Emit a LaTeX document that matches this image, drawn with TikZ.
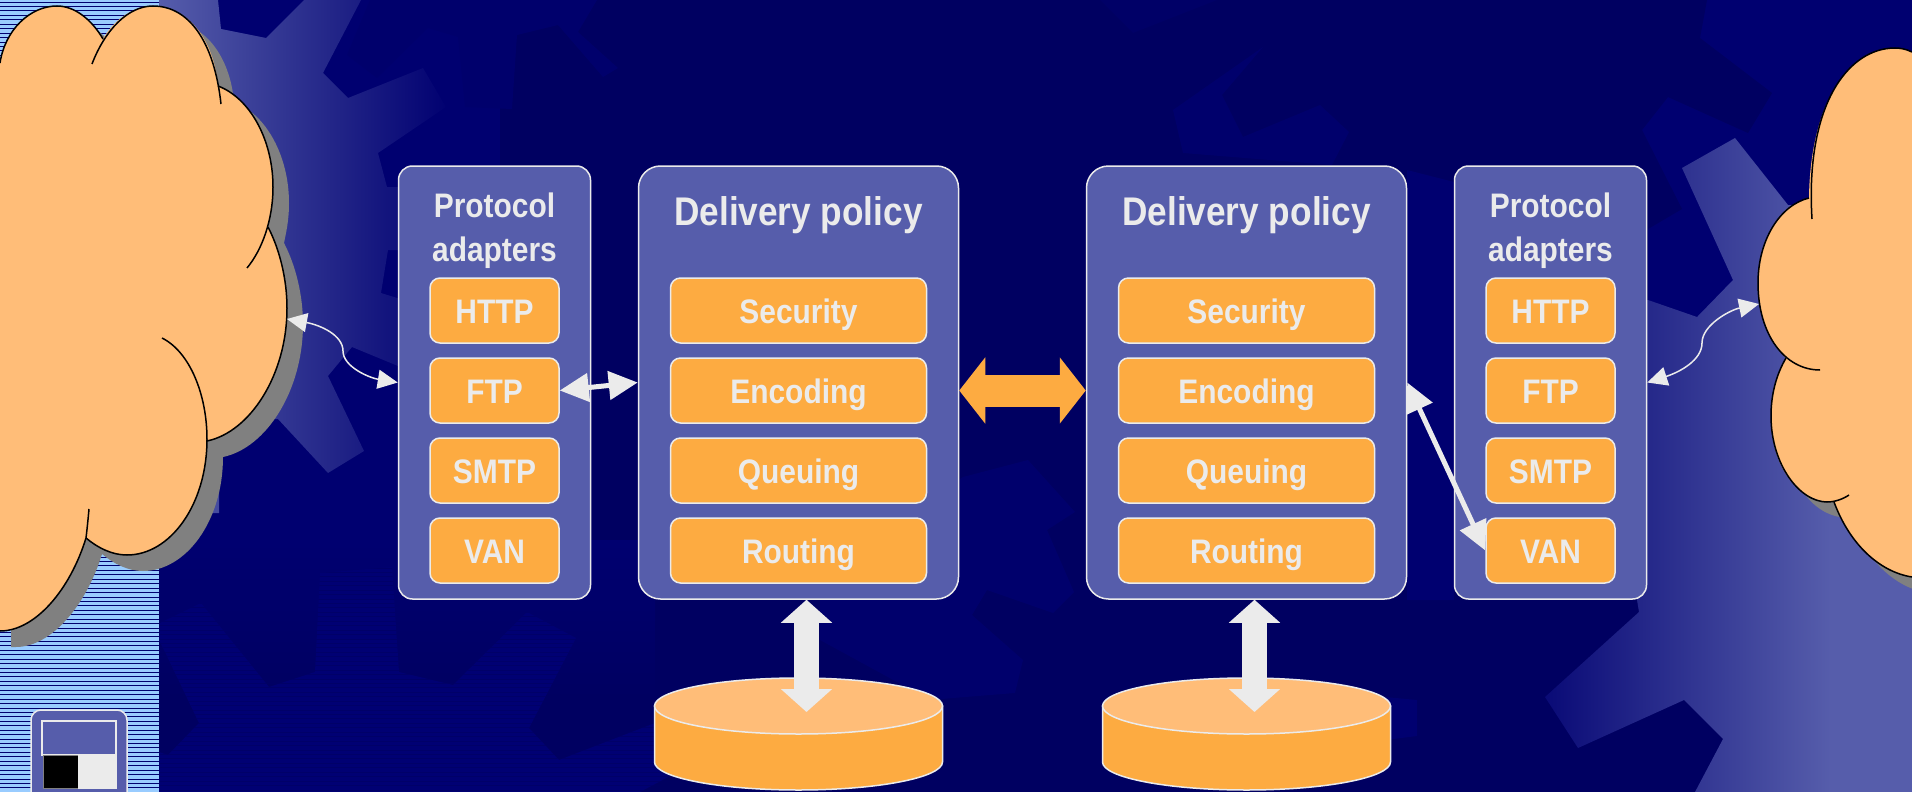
\documentclass[tikz,border=0pt]{standalone}
\usepackage{fontspec}
\setmainfont{Liberation Sans}[FakeStretch=0.88]
\usetikzlibrary{arrows.meta}
\definecolor{bgbase}{rgb}{0, 0, 0.44}
\definecolor{bgdark}{rgb}{0, 0, 0.38}
\definecolor{bgtooth}{rgb}{0, 0, 0.425}
\definecolor{bglight}{rgb}{0, 0, 0.45}
\definecolor{panelblue}{rgb}{0.337, 0.365, 0.671}
\definecolor{slotorange}{rgb}{0.992, 0.671, 0.255}
\definecolor{cloudorange}{rgb}{1.0, 0.741, 0.471}
\definecolor{striplight}{rgb}{0.6, 0.8, 1.0}
\colorlet{linegrey}{black!8!white}
\colorlet{shadowgrey}{black!50!white}
\pgfdeclareradialshading{bgglow}{\pgfpoint{0bp}{0bp}}{color(0bp)=(bgdark); color(22bp)=(bgdark); color(32bp)=(bgbase); color(50bp)=(bgbase)}
\tikzset{panel/.style={draw=linegrey, line width=1.5pt, fill=panelblue, inner sep=0pt, minimum height=433pt}}
\tikzset{panelp/.style={panel, rounded corners=14pt, minimum width=192pt}}
\tikzset{paneld/.style={panel, rounded corners=22pt, minimum width=320pt}}
\tikzset{slot/.style={draw=linegrey, line width=1.5pt, fill=slotorange, rounded corners=10pt, inner sep=0pt, minimum height=65pt, text=linegrey, font=\fontsize{34}{40}\selectfont\bfseries, text height=26pt, text depth=0pt}}
\tikzset{slotp/.style={slot, minimum width=129pt}}
\tikzset{slotd/.style={slot, minimum width=256pt}}
\tikzset{ptitle/.style={text=linegrey, align=center, inner sep=0pt, anchor=base, font=\fontsize{34}{44}\selectfont\bfseries}}
\tikzset{dtitle/.style={text=linegrey, inner sep=0pt, font=\fontsize{40}{48}\selectfont\bfseries, text height=28.6pt, text depth=0pt}}
\tikzset{thinarrow/.style={draw=linegrey, line width=1.5pt, {Triangle[length=20pt, width=19pt, fill=linegrey]}-{Triangle[length=20pt, width=19pt, fill=linegrey]}}}
\tikzset{medarrow/.style={draw=linegrey, line width=5pt, {Triangle[length=29pt, width=28pt, fill=linegrey]}-{Triangle[length=29pt, width=28pt, fill=linegrey]}}}
\tikzset{fatarrow/.style={draw=linegrey, line width=25pt, {Triangle[length=23pt, width=50pt, fill=linegrey]}-{Triangle[length=23pt, width=50pt, fill=linegrey]}}}
\tikzset{linkarrow/.style={draw=slotorange, line width=32pt, {Triangle[length=26pt, width=65pt, fill=slotorange]}-{Triangle[length=26pt, width=65pt, fill=slotorange]}}}
\tikzset{cloudline/.style={draw=black, line width=1.5pt}}
\tikzset{storeedge/.style={draw=linegrey, line width=1.5pt}}
\newcommand{\cloudleft}{(-5, 63) -- (0, 63) .. controls (5, 30) and (30, 6) .. (57, 6) .. controls (75, 6) and (92, 20) .. (103, 39) .. controls (115, 18) and (135, 6) .. (153, 6) .. controls (188, 6) and (214, 40) .. (218, 86) .. controls (250, 98) and (273, 140) .. (273, 187) .. controls (273, 205) and (270, 217) .. (268, 227) .. controls (280, 250) and (287, 280) .. (287, 308) .. controls (287, 375) and (250, 432) .. (207, 441) .. controls (207, 505) and (170, 555) .. (127, 555) .. controls (112, 555) and (98, 548) .. (86, 538) .. controls (70, 590) and (35, 631) .. (0, 631) -- (-5, 631) -- cycle}
\newcommand{\cloudright}{(1920, 52) -- (1912, 52) .. controls (1906, 49) and (1900, 48) .. (1895, 48) .. controls (1848, 48) and (1810, 105) .. (1809, 198) .. controls (1780, 205) and (1758, 240) .. (1758, 283) .. controls (1758, 315) and (1770, 342) .. (1786, 358) .. controls (1776, 375) and (1771, 395) .. (1771, 416) .. controls (1771, 465) and (1796, 502) .. (1834, 502) .. controls (1850, 545) and (1880, 572) .. (1912, 577) -- (1920, 577) -- cycle}
\begin{document}
\begin{tikzpicture}[x=1pt, y=-1pt]
    \path [clip, use as bounding box] (0, 0) rectangle (1912, 792);
    \fill [bgbase] (0, 0) rectangle (1912, 792);

    % dim wheels behind everything
    \begin{scope}
        \clip (500, 0) -- (1707, 0) -- (1700, 38) -- (1772, 93) -- (1748, 133) -- (1668, 97) -- (1642, 130) -- (1682, 209) -- (1648, 229) -- (1648, 300) -- (1660, 600) -- (1760, 792) -- (500, 792) -- cycle;
        \shade [shading=bgglow] (1400, 600) circle (1250);
    \end{scope}
    \fill [bgtooth] (347, 55) -- (377, 78) -- (428, 28) -- (458, 37) -- (465, 107) -- (512, 109) -- (517, 35) -- (558, 25) -- (603, 77) -- (618, 68) -- (578, 32) -- (597, 0) -- (370, 0) -- cycle;
    \shade [top color=bgbase, bottom color=bgdark] (159, 540) rectangle (655, 700);
    \fill [bgdark] (159, 700) rectangle (655, 792);
    \begin{scope}
        \clip (160, 623) -- (201, 603) -- (269, 687) -- (315, 672) -- (320, 573) -- (392, 567) -- (399, 672) -- (453, 685) -- (527, 612) -- (576, 638) -- (529, 728) -- (559, 760) -- (655, 723) -- (700, 760) -- (640, 792) -- (159, 792) -- (159, 752) -- (168, 755) -- (199, 723) -- (164, 650) -- (159, 640) -- cycle;
        \fill [bglight] (159, 560) rectangle (720, 792);
        \foreach \ypos in {568, 572.44, ..., 792} {
            \draw [bgdark, opacity=0.6, line width=1pt] (159, \ypos) -- (720, \ypos);
        }
    \end{scope}
    \fill [bgtooth] (963, 477) -- (1028, 460) -- (1075, 512) -- (1047, 530) -- (1074, 592) -- (1053, 613) -- (987, 590) -- (972, 615) -- (1023, 660) -- (1015, 693) -- (953, 698) -- (930, 700) -- (820, 640) -- (820, 600) -- (930, 500) -- cycle;
    \fill [bgtooth] (1173, 110) -- (1263, 47) -- (1222, 95) -- (1243, 137) -- (1320, 105) -- (1349, 132) -- (1332, 165) -- (1183, 153) -- cycle;
    \fill [bgbase, opacity=0.4] (1100, 0) -- (1133, 33) -- (1217, 0) -- cycle;
    \fill [bgbase] (1407, 170) -- (1454, 182) -- (1454, 600) -- (1407, 600) -- cycle;
    \fill [bgbase] (1385, 697) -- (1417, 700) -- (1417, 736) -- (1385, 740) -- cycle;

    % bright wheels
    \begin{scope}
        \clip (218, 0) -- (221, 29) -- (266, 38) -- (304, 0) -- (361, 0) -- (323, 73) -- (348, 98) -- (423, 68) -- (446, 107) -- (378, 153) -- (387, 187) -- (420, 187) -- (420, 250) -- (388, 250) -- (381, 293) -- (420, 305) -- (420, 366) -- (398, 366) -- (352, 347) -- (328, 376) -- (364, 451) -- (328, 473) -- (278, 419) -- (230, 420) -- (219, 460) -- (219, 513) -- (159, 513) -- (159, 0) -- cycle;
        \shade [left color=panelblue, right color=bgbase] (159, 0) rectangle (450, 520);
    \end{scope}
    \begin{scope}
        \clip (1682, 168) -- (1735, 138) -- (1788, 205) -- (1912, 205) -- (1912, 792) -- (1695, 792) -- (1723, 739) -- (1684, 700) -- (1578, 748) -- (1545, 697) -- (1639, 612) -- (1637, 600) -- (1630, 300) -- (1648, 300) -- (1697, 317) -- (1733, 280) -- cycle;
        \shade [left color=bgbase, right color=panelblue] (1510, 130) rectangle (1830, 792);
        \fill [panelblue] (1830, 130) rectangle (1912, 792);
    \end{scope}

    % striped margin
    \fill [striplight] (0, 0) rectangle (159, 792);
    \foreach \ypos in {2, 6.44, ..., 792} {
        \draw [bgbase, line width=0.9pt] (0, \ypos) -- (159, \ypos);
    }

    % little emblem
    \node [draw=linegrey, line width=1.5pt, fill=panelblue, rounded corners=10pt, inner sep=0pt, minimum width=96pt, minimum height=100pt] (emblem) at (79, 760) {};
    \node [draw=linegrey, line width=1.5pt, fill=panelblue, inner sep=0pt, minimum width=74pt, minimum height=34pt] (emblemtop) at (79, 738) {};
    \node [draw=shadowgrey, line width=1pt, fill=black, inner sep=0pt, minimum width=35pt, minimum height=33pt] (emblemblack) at (60.5, 772) {};
    \node [draw=linegrey, fill=linegrey, inner sep=0pt, minimum width=38pt, minimum height=33pt] (emblemwhite) at (97, 772) {};

    % clouds
    \fill [shadowgrey, shift={(16, 16)}] \cloudleft;
    \fill [cloudorange] \cloudleft;
    \fill [shadowgrey, shift={(16, 16)}] \cloudright;
    \fill [cloudorange] \cloudright;

    \draw [cloudline] (0, 63) .. controls (5, 30) and (30, 6) .. (57, 6) .. controls (75, 6) and (92, 20) .. (103, 39);
    \draw [cloudline] (92, 64) .. controls (105, 30) and (128, 6) .. (153, 6) .. controls (188, 6) and (214, 40) .. (221, 104);
    \draw [cloudline] (218, 86) .. controls (250, 98) and (273, 140) .. (273, 187) .. controls (273, 220) and (262, 250) .. (247, 268);
    \draw [cloudline] (268, 227) .. controls (280, 250) and (287, 280) .. (287, 308) .. controls (287, 375) and (250, 432) .. (207, 441);
    \draw [cloudline] (162, 338) .. controls (190, 352) and (207, 395) .. (207, 439) .. controls (207, 505) and (170, 555) .. (127, 555) .. controls (112, 555) and (98, 548) .. (86, 538);
    \draw [cloudline] (89, 509) .. controls (88, 520) and (87, 530) .. (86, 538) .. controls (70, 590) and (35, 631) .. (0, 631);

    \draw [cloudline] (1912, 52) .. controls (1906, 49) and (1900, 48) .. (1895, 48) .. controls (1848, 48) and (1805, 105) .. (1812, 219);
    \draw [cloudline] (1809, 198) .. controls (1780, 205) and (1758, 240) .. (1758, 283) .. controls (1758, 335) and (1785, 370) .. (1820, 370);
    \draw [cloudline] (1786, 358) .. controls (1776, 375) and (1771, 395) .. (1771, 416) .. controls (1771, 465) and (1800, 502) .. (1827, 502) .. controls (1835, 502) and (1843, 499) .. (1849, 495);
    \draw [cloudline] (1834, 502) .. controls (1850, 545) and (1880, 572) .. (1912, 577);

    \coordinate (cloudL) at (287, 319);
    \coordinate (cloudR) at (1759, 304);
    \coordinate (waveL) at (343, 351);
    \coordinate (waveR) at (1702, 343);

    % panels
    \node [panelp] (protoL) at (494.5, 382.5) {};
    \node [paneld] (policyL) at (798.5, 382.5) {};
    \node [paneld] (policyR) at (1246.5, 382.5) {};
    \node [panelp] (protoR) at (1550.5, 382.5) {};

    \node [ptitle] (titleA) at (494.5, 261) { Protocol\\adapters };
    \node [dtitle] (titleB) at (798.5, 211.5) { Delivery policy };
    \node [dtitle] (titleC) at (1246.5, 211.5) { Delivery policy };
    \node [ptitle] (titleD) at (1550.5, 261) { Protocol\\adapters };

    \node [slotp] (httpL) at (494.5, 310.5) { HTTP };
    \node [slotp] (ftpL) at (494.5, 390.5) { FTP };
    \node [slotp] (smtpL) at (494.5, 470.5) { SMTP };
    \node [slotp] (vanL) at (494.5, 550.5) { VAN };

    \node [slotd] (secL) at (798.5, 310.5) { Security };
    \node [slotd] (encL) at (798.5, 390.5) { Encoding };
    \node [slotd] (queL) at (798.5, 470.5) { Queuing };
    \node [slotd] (rouL) at (798.5, 550.5) { Routing };

    \node [slotd] (secR) at (1246.5, 310.5) { Security };
    \node [slotd] (encR) at (1246.5, 390.5) { Encoding };
    \node [slotd] (queR) at (1246.5, 470.5) { Queuing };
    \node [slotd] (rouR) at (1246.5, 550.5) { Routing };

    \node [slotp] (httpR) at (1550.5, 310.5) { HTTP };
    \node [slotp] (ftpR) at (1550.5, 390.5) { FTP };
    \node [slotp] (smtpR) at (1550.5, 470.5) { SMTP };
    \node [slotp] (vanR) at (1550.5, 550.5) { VAN };

    % discs
    \foreach \xpos/\storename in {798.5/storeL, 1246.5/storeR} {
        \fill [slotorange, storeedge] (\xpos - 144, 706) -- (\xpos - 144, 762) arc [start angle=180, end angle=360, x radius=144, y radius=-28] -- (\xpos + 144, 706) -- cycle;
        \fill [cloudorange, storeedge] (\xpos, 706) ellipse [x radius=144, y radius=28];
        \coordinate (\storename) at (\xpos + 8, 712);
    }

    % connectors
    \draw [thinarrow] (cloudL) .. controls (320, 325) and (343, 335) .. (waveL) .. controls (343, 367) and (370, 378) .. (protoL.west);
    \draw [thinarrow] (protoR.east) .. controls (1680, 372) and (1702, 360) .. (waveR) .. controls (1702, 325) and (1730, 310) .. (cloudR);
    \draw [medarrow] (ftpL.east) -- (policyL.west);
    \draw [medarrow] (policyR.east) -- (vanR.west);
    \draw [linkarrow] (policyL.east |- encL) -- (policyR.west |- encR);
    \draw [fatarrow] ([xshift=8pt]policyL.south) -- (storeL);
    \draw [fatarrow] ([xshift=8pt]policyR.south) -- (storeR);
\end{tikzpicture}
\end{document}
